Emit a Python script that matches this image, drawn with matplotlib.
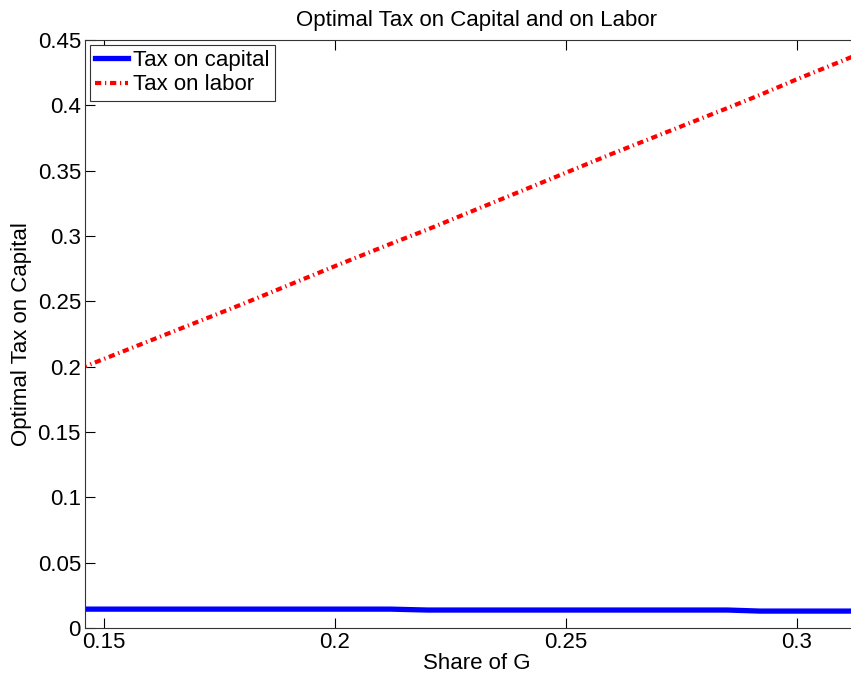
import numpy as np
import matplotlib.pyplot as plt

plt.rcParams['font.family'] = ['Liberation Sans', 'DejaVu Sans']

# Valores
share_g = [0.145, 0.16, 0.18, 0.20, 0.212, 0.22, 0.24, 0.26, 0.28, 0.285, 0.292, 0.30, 0.316]
tax_capital = [0.0145, 0.0145, 0.0145, 0.0145, 0.0145, 0.0138, 0.0138, 0.0138, 0.0138, 0.0138, 0.0130, 0.0130, 0.0130]
tax_labor = [0.199, 0.220, 0.248, 0.277, 0.294, 0.305, 0.334, 0.363, 0.391, 0.398, 0.408, 0.420, 0.443]

fig = plt.figure(figsize=(8.51, 6.79), dpi=100)
# el eje se sale un poco por la derecha, como en la imagen original
ax = fig.add_axes([0.1, 0.075, 0.92, 0.866])

ax.plot(share_g, tax_capital, color='blue', linewidth=3.8, label='Tax on capital')
ax.plot(share_g, tax_labor, color='red', linewidth=3.0, dashes=(1.5, 0.9, 0.3, 0.9),
        dash_capstyle='butt', label='Tax on labor')

ax.set_xlim(0.1459, 0.3154)
ax.set_ylim(0, 0.45)
ax.set_xticks([0.15, 0.2, 0.25, 0.3])
ax.set_xticklabels(['0.15', '0.2', '0.25', '0.3'])
ax.set_yticks(np.arange(0, 0.451, 0.05))
ax.set_yticklabels(['0', '0.05', '0.1', '0.15', '0.2', '0.25', '0.3', '0.35', '0.4', '0.45'])
ax.tick_params(direction='in', top=True, right=True, labelsize=16, length=7, width=0.8, pad=3)
for s in ax.spines.values():
    s.set_linewidth(0.8)
    s.set_color('#333333')

ax.set_xlabel('Share of G', fontsize=16, labelpad=0)
ax.set_ylabel('Optimal Tax on Capital', fontsize=16, labelpad=4)
ax.set_title('Optimal Tax on Capital and on Labor', fontsize=16, pad=10)

leg = ax.legend(loc='upper left', fontsize=16, fancybox=False, framealpha=1,
                edgecolor='#333333', handlelength=1.5, borderpad=0.25,
                labelspacing=0.15, handletextpad=0.2, borderaxespad=0.2)
leg.get_frame().set_linewidth(0.8)

plt.savefig('out.png', dpi=100)
